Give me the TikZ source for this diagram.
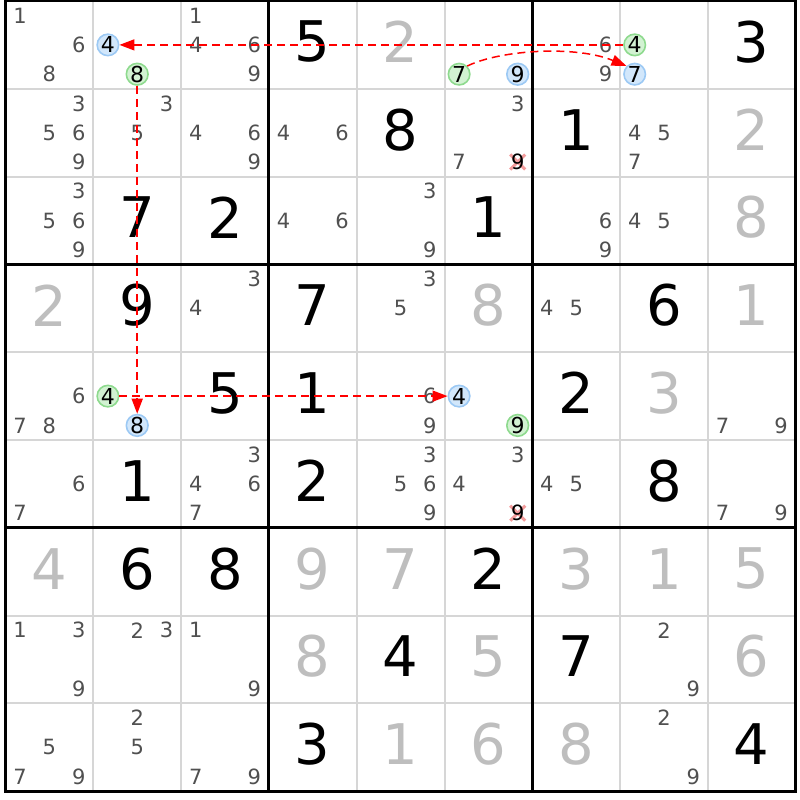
\documentclass[tikz,border=0pt]{standalone}
\usepackage{fontspec}
\setmainfont{DejaVu Sans}
\usetikzlibrary{arrows.meta}
\definecolor{candgray}{HTML}{505050}
\definecolor{solvedgray}{HTML}{BEBEBE}
\definecolor{gridgray}{HTML}{D6D6D6}
\definecolor{bluefill}{HTML}{D2E7FB}
\definecolor{blueborder}{HTML}{9CC9F4}
\definecolor{greenfill}{HTML}{D2F2D2}
\definecolor{greenborder}{HTML}{8EDA8E}
\definecolor{crosspink}{HTML}{F39C9C}
\tikzset{
  given/.style={font=\fontsize{56}{56}\selectfont, text=black, inner sep=0pt},
  solved/.style={given, text=solvedgray},
  cand/.style={font=\fontsize{21}{21}\selectfont, text=candgray, inner sep=0pt},
  hlbase/.style={circle, line width=1.6pt, minimum size=21.5pt, inner sep=0pt,
    font=\fontsize{22}{22}\selectfont, text=black},
  hlblue/.style={hlbase, draw=blueborder, fill=bluefill},
  hlgreen/.style={hlbase, draw=greenborder, fill=greenfill},
  thingrid/.style={draw=gridgray, line width=2pt},
  thickgrid/.style={draw=black, line width=3pt},
  crossmark/.style={draw=crosspink, line width=3pt},
  link/.style={draw=red, line width=1.5pt, dash pattern=on 8pt off 5pt,
    -{Triangle[length=15pt,width=11pt]}},
}
% given digit
\newcommand\Gv[3]{\node[given] (g-#1-#2) at ({5.5+(#1-0.5)*87.8},{-2+(#2-0.5)*87.8}) {#3};}
% solved digit
\newcommand\Sv[3]{\node[solved] (s-#1-#2) at ({5.5+(#1-0.5)*87.8},{-2+(#2-0.5)*87.8}) {#3};}
% candidates
\newcommand\Cv[3]{\foreach \d in {#3}{%
  \pgfmathtruncatemacro\candx{mod(\d-1,3)}%
  \pgfmathtruncatemacro\candy{int((\d-1)/3)}%
  \node[cand] (c-#1-#2-\d) at ({5.5+(#1-0.5)*87.8+(\candx-1)*29.3},{1+(#2-0.5)*87.8+(\candy-1)*29.3}) {\d};}}
% highlighted candidate
\newcommand\Hv[4]{%
  \pgfmathtruncatemacro\candx{mod(#3-1,3)}%
  \pgfmathtruncatemacro\candy{int((#3-1)/3)}%
  \node[#4] (h-#1-#2-#3) at ({5.5+(#1-0.5)*87.8+(\candx-1)*29.3},{1+(#2-0.5)*87.8+(\candy-1)*29.3}) {#3};}
% eliminated candidate
\newcommand\Xv[3]{%
  \pgfmathtruncatemacro\candx{mod(#3-1,3)}%
  \pgfmathtruncatemacro\candy{int((#3-1)/3)}%
  \coordinate (x-#1-#2-#3) at ({5.5+(#1-0.5)*87.8+(\candx-1)*29.3},{1+(#2-0.5)*87.8+(\candy-1)*29.3});
  \draw[crossmark] ([shift={(-7.5,-7.5)}]x-#1-#2-#3) -- ([shift={(7.5,7.5)}]x-#1-#2-#3);
  \draw[crossmark] ([shift={(-7.5,7.5)}]x-#1-#2-#3) -- ([shift={(7.5,-7.5)}]x-#1-#2-#3);
  \node[cand, text=black] (e-#1-#2-#3) at (x-#1-#2-#3) {#3};}
\begin{document}
\begin{tikzpicture}[x=1pt,y=-1pt]
\useasboundingbox[fill=white] (0,0) rectangle (800,800);
% thin grid
\foreach \i in {1,2,4,5,7,8}{
  \draw[thingrid] ({5.5+\i*87.8},1) -- ({5.5+\i*87.8},791.2);
  \draw[thingrid] (5.5,{1+\i*87.8}) -- (795.7,{1+\i*87.8});
}
% thick grid
\foreach \i in {0,3,6,9}{
  \draw[thickgrid] ({5.5+\i*87.8},-0.5) -- ({5.5+\i*87.8},792.7);
  \draw[thickgrid] (4,{1+\i*87.8}) -- (797.2,{1+\i*87.8});
}
% row 1
\Cv{1}{1}{1,6,8}
\Hv{2}{1}{4}{hlblue}
\Hv{2}{1}{8}{hlgreen}
\Cv{3}{1}{1,4,6,9}
\Gv{4}{1}{5}
\Sv{5}{1}{2}
\Hv{6}{1}{7}{hlgreen}
\Hv{6}{1}{9}{hlblue}
\Cv{7}{1}{6,9}
\Hv{8}{1}{4}{hlgreen}
\Hv{8}{1}{7}{hlblue}
\Gv{9}{1}{3}
% row 2
\Cv{1}{2}{3,5,6,9}
\Cv{2}{2}{3,5}
\Cv{3}{2}{4,6,9}
\Cv{4}{2}{4,6}
\Gv{5}{2}{8}
\Cv{6}{2}{3,7}
\Xv{6}{2}{9}
\Gv{7}{2}{1}
\Cv{8}{2}{4,5,7}
\Sv{9}{2}{2}
% row 3
\Cv{1}{3}{3,5,6,9}
\Gv{2}{3}{7}
\Gv{3}{3}{2}
\Cv{4}{3}{4,6}
\Cv{5}{3}{3,9}
\Gv{6}{3}{1}
\Cv{7}{3}{6,9}
\Cv{8}{3}{4,5}
\Sv{9}{3}{8}
% row 4
\Sv{1}{4}{2}
\Gv{2}{4}{9}
\Cv{3}{4}{3,4}
\Gv{4}{4}{7}
\Cv{5}{4}{3,5}
\Sv{6}{4}{8}
\Cv{7}{4}{4,5}
\Gv{8}{4}{6}
\Sv{9}{4}{1}
% row 5
\Cv{1}{5}{6,7,8}
\Hv{2}{5}{4}{hlgreen}
\Hv{2}{5}{8}{hlblue}
\Gv{3}{5}{5}
\Gv{4}{5}{1}
\Cv{5}{5}{6,9}
\Hv{6}{5}{4}{hlblue}
\Hv{6}{5}{9}{hlgreen}
\Gv{7}{5}{2}
\Sv{8}{5}{3}
\Cv{9}{5}{7,9}
% row 6
\Cv{1}{6}{6,7}
\Gv{2}{6}{1}
\Cv{3}{6}{3,4,6,7}
\Gv{4}{6}{2}
\Cv{5}{6}{3,5,6,9}
\Cv{6}{6}{3,4}
\Xv{6}{6}{9}
\Cv{7}{6}{4,5}
\Gv{8}{6}{8}
\Cv{9}{6}{7,9}
% row 7
\Sv{1}{7}{4}
\Gv{2}{7}{6}
\Gv{3}{7}{8}
\Sv{4}{7}{9}
\Sv{5}{7}{7}
\Gv{6}{7}{2}
\Sv{7}{7}{3}
\Sv{8}{7}{1}
\Sv{9}{7}{5}
% row 8
\Cv{1}{8}{1,3,9}
\Cv{2}{8}{2,3}
\Cv{3}{8}{1,9}
\Sv{4}{8}{8}
\Gv{5}{8}{4}
\Sv{6}{8}{5}
\Gv{7}{8}{7}
\Cv{8}{8}{2,9}
\Sv{9}{8}{6}
% row 9
\Cv{1}{9}{5,7,9}
\Cv{2}{9}{2,5}
\Cv{3}{9}{7,9}
\Gv{4}{9}{3}
\Sv{5}{9}{1}
\Sv{6}{9}{6}
\Sv{7}{9}{8}
\Cv{8}{9}{2,9}
\Gv{9}{9}{4}
% links
\draw[link] (h-8-1-4) -- (h-2-1-4);
\draw[link] (h-2-1-8) -- (h-2-5-8);
\draw[link] (h-2-5-4) -- (h-6-5-4);
\draw[link] (h-6-1-7.45) .. controls (500,50) and (575,45) .. (h-8-1-7.135);
\end{tikzpicture}
\end{document}
